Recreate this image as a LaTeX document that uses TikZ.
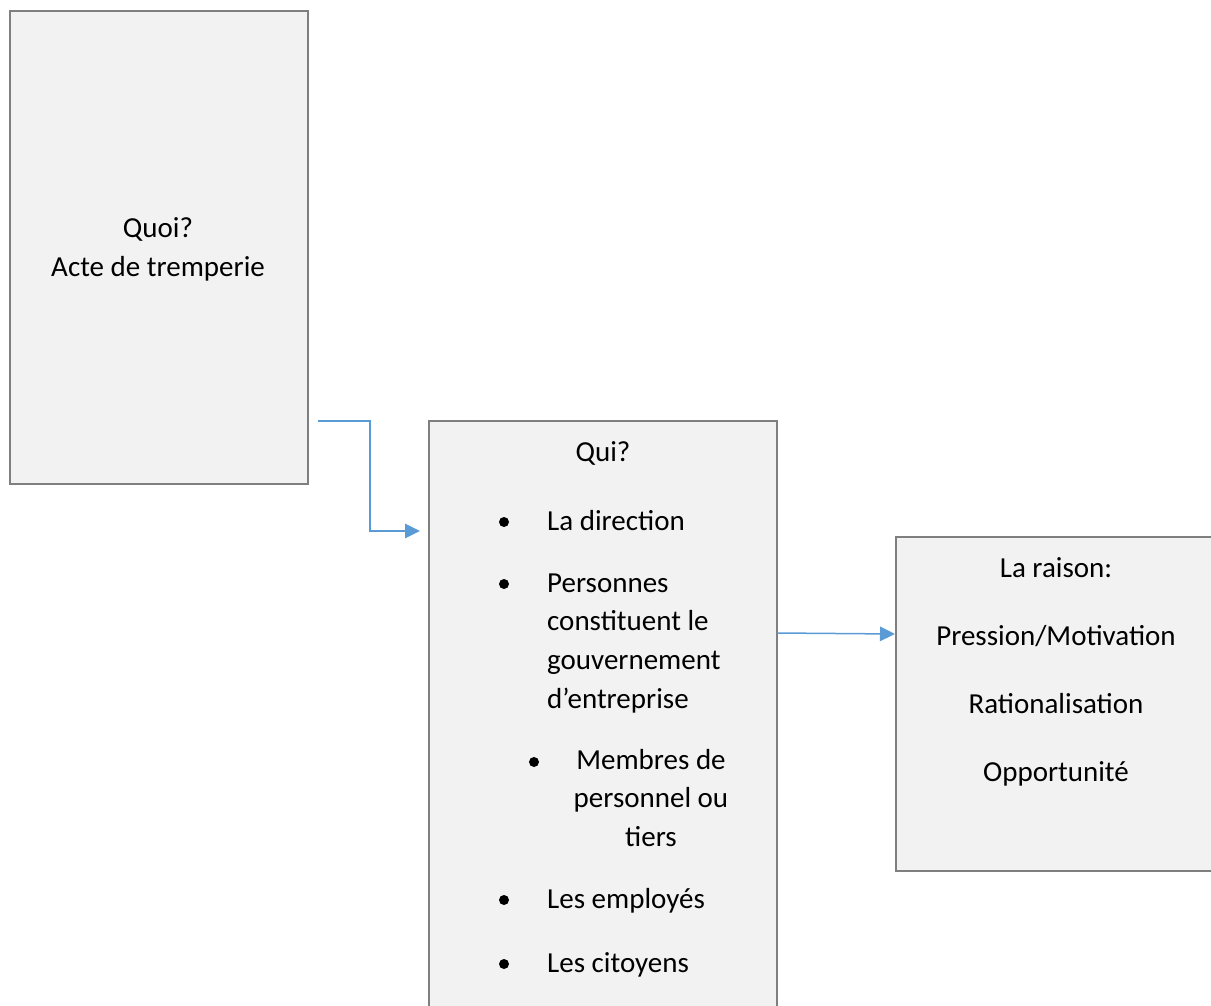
\documentclass[tikz,border=0pt]{standalone}
\usepackage{fontspec}
\setmainfont{Carlito}
\usetikzlibrary{arrows.meta,calc}
\definecolor{boxfill}{HTML}{F2F2F2}
\definecolor{boxline}{HTML}{7F7F7F}
\definecolor{arrowblue}{HTML}{5B9BD5}
\begin{document}
\begin{tikzpicture}[x=1pt,y=-1pt,
  box/.style={draw=boxline,fill=boxfill,line width=2.5pt,rectangle,inner sep=0pt,outer sep=0pt},
  txt/.style={inner sep=0pt,font=\fontsize{29}{35}\selectfont,anchor=base},
  ltxt/.style={txt,anchor=base west},
  dot/.style={circle,fill=black,inner sep=0pt,minimum size=10pt},
  conn/.style={draw=arrowblue,line width=1.5pt,-{Triangle[length=15pt,width=14.5pt]}}]
\useasboundingbox (0,0) rectangle (1211,1006);
\clip (0,0) rectangle (1211,1006);
% boxes
\node[box,minimum width=298pt,minimum height=473pt] (b1) at (159,247.5) {};
\node[box,minimum width=348pt,minimum height=609pt] (b2) at (603,725.5) {};
\node[box,minimum width=334pt,minimum height=334pt] (b3) at (1063,704) {};
% box 1 texts
\node[txt] (t1a) at (158,237) {Quoi?};
\node[txt] (t1b) at (158,276) {Acte de tremperie};
% box 2 texts
\node[txt] (t2a) at (603,461) {Qui?};
\node[dot] (d1) at (504,522) {};
\node[ltxt] (t2b) at (547,530) {La direction};
\node[dot] (d2) at (504,584) {};
\node[ltxt] (t2c) at (547,592) {Personnes};
\node[ltxt] (t2d) at (547,630) {constituent le};
\node[ltxt] (t2e) at (547,669) {gouvernement};
\node[ltxt] (t2f) at (547,708) {d’entreprise};
\node[dot] (d3) at (534,762) {};
\node[txt] (t2g) at (651,769) {Membres de};
\node[txt] (t2h) at (651,807) {personnel ou};
\node[txt] (t2i) at (651,846) {tiers};
\node[dot] (d4) at (504,900) {};
\node[ltxt] (t2j) at (547,908) {Les employés};
\node[dot] (d5) at (504,964) {};
\node[ltxt] (t2k) at (547,972) {Les citoyens};
% box 3 texts
\node[txt] (t3a) at (1056,577) {La raison:};
\node[txt] (t3b) at (1056,645) {Pression/Motivation};
\node[txt] (t3c) at (1056,713) {Rationalisation};
\node[txt] (t3d) at (1056,781) {Opportunité};
% connectors
\coordinate (c1s) at ($(b1.east |- b2.north)+(10,0)$);
\coordinate (c1e) at ($(b2.north west)+(-9,110)$);
\draw[conn] (c1s) -| ($(c1e)+(-50,0)$) -- (c1e);
\coordinate (c2s) at ($(b2.north east)+(0,212)$);
\coordinate (c2e) at ($(b3.north west)+(-1,97)$);
\draw[conn] (c2s) -- (c2e);
\end{tikzpicture}
\end{document}
